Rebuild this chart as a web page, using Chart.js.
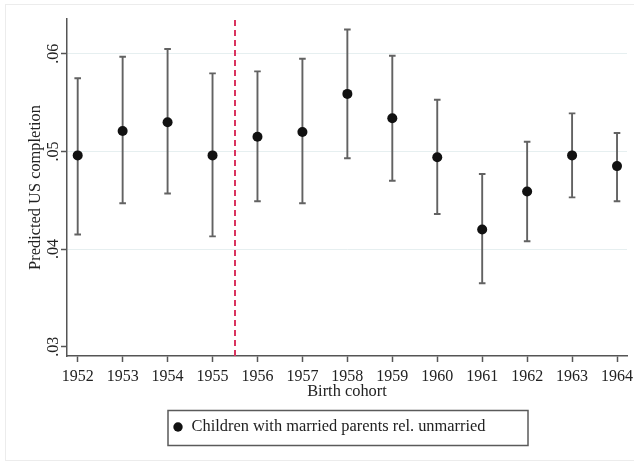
<!DOCTYPE html>
<html>
<head>
<meta charset="utf-8">
<script src="https://cdn.jsdelivr.net/npm/chart.js@4.4.1/dist/chart.umd.min.js"></script>
<style>
  html, body { margin: 0; padding: 0; background: #fff; }
  #wrap { position: relative; width: 634px; height: 464px; }
</style>
</head>
<body>
<div id="wrap"><canvas id="c" width="634" height="464"></canvas></div>
<script>
// ---- data ----
const years = [1952, 1953, 1954, 1955, 1956, 1957, 1958, 1959, 1960, 1961, 1962, 1963, 1964];
const estimate = [0.0496, 0.0521, 0.0530, 0.0496, 0.0515, 0.0520, 0.0559, 0.0534, 0.0494, 0.0420, 0.0459, 0.0496, 0.0485];
const upperCI = [0.0575, 0.0597, 0.0605, 0.0580, 0.0582, 0.0595, 0.0625, 0.0598, 0.0553, 0.0477, 0.0510, 0.0539, 0.0519];
const lowerCI = [0.0415, 0.0447, 0.0457, 0.0413, 0.0449, 0.0447, 0.0493, 0.0470, 0.0436, 0.0365, 0.0408, 0.0453, 0.0449];
const yTicks = [0.03, 0.04, 0.05, 0.06];
const yTickLabels = ['.03', '.04', '.05', '.06'];
const cutoffYear = 1955.5;
const seriesLabel = 'Children with married parents rel. unmarried';
const xTitle = 'Birth cohort';
const yTitle = 'Predicted US completion';

const FONT = '"Liberation Serif", "Times New Roman", serif';
const Y_MIN = 0.02905, Y_MAX = 0.06357;

const errorBars = {
  id: 'errorBars',
  beforeDatasetsDraw(chart) {
    const {ctx, scales: {x, y}} = chart;
    ctx.save();
    ctx.strokeStyle = '#626262';
    ctx.lineWidth = 1.9;
    years.forEach((yr, i) => {
      const px = x.getPixelForValue(yr);
      const top = y.getPixelForValue(upperCI[i]);
      const bot = y.getPixelForValue(lowerCI[i]);
      ctx.beginPath();
      ctx.moveTo(px, top); ctx.lineTo(px, bot);
      ctx.moveTo(px - 3.3, top); ctx.lineTo(px + 3.3, top);
      ctx.moveTo(px - 3.3, bot); ctx.lineTo(px + 3.3, bot);
      ctx.stroke();
    });
    ctx.restore();
  }
};

const frameAndLegend = {
  id: 'frameAndLegend',
  beforeDraw(chart) {
    const ctx = chart.ctx;
    ctx.save();
    ctx.fillStyle = '#fff';
    ctx.fillRect(0, 0, chart.width, chart.height);
    ctx.strokeStyle = '#ececec';
    ctx.lineWidth = 1;
    ctx.strokeRect(5.5, 4.5, 640, 456);
    ctx.restore();
  },
  afterDraw(chart) {
    const ctx = chart.ctx;
    ctx.save();
    ctx.strokeStyle = '#5a5a5a';
    ctx.lineWidth = 1.5;
    ctx.strokeRect(168, 410.5, 360, 35);
    ctx.fillStyle = '#111';
    ctx.beginPath();
    ctx.arc(178, 427, 4.7, 0, Math.PI * 2);
    ctx.fill();
    ctx.fillStyle = '#222';
    ctx.font = '16.4px ' + FONT;
    ctx.textBaseline = 'middle';
    ctx.textAlign = 'left';
    ctx.fillText(chart.data.datasets[0].label, 191.5, 427);
    ctx.restore();
  }
};

new Chart(document.getElementById('c'), {
  type: 'scatter',
  data: {
    datasets: [
      {
        label: seriesLabel,
        data: years.map((yr, i) => ({x: yr, y: estimate[i]})),
        pointRadius: 5,
        pointHoverRadius: 5,
        pointBackgroundColor: '#111',
        pointBorderColor: '#111',
        pointBorderWidth: 0,
        showLine: false,
        order: 1
      },
      {
        label: 'cutoff',
        type: 'line',
        data: [{x: cutoffYear, y: Y_MIN}, {x: cutoffYear, y: Y_MAX}],
        borderColor: '#d9345f',
        borderWidth: 2,
        borderDash: [6, 4],
        pointRadius: 0,
        fill: false,
        order: 2
      }
    ]
  },
  options: {
    responsive: false,
    animation: false,
    devicePixelRatio: 1,
    layout: { padding: { top: 19, right: 7, bottom: 62, left: 0 } },
    plugins: {
      legend: { display: false },
      tooltip: { enabled: false }
    },
    scales: {
      x: {
        type: 'linear',
        min: 1951.762,
        max: 1964.222,
        afterBuildTicks(scale) { scale.ticks = years.map(v => ({value: v})); },
        afterFit(scale) { scale.height = 46; scale.paddingLeft = 0; scale.paddingRight = 0; },
        border: { display: true, color: '#555', width: 1.5 },
        grid: { drawOnChartArea: false, drawTicks: true, tickLength: 6, tickColor: '#555', tickWidth: 1.5 },
        ticks: {
          color: '#222',
          font: { family: FONT, size: 16 },
          padding: 5,
          maxRotation: 0,
          minRotation: 0,
          autoSkip: false,
          callback: v => String(v)
        },
        title: {
          display: true,
          text: xTitle,
          color: '#222',
          font: { family: FONT, size: 16.4 },
          padding: { top: 0, bottom: 0 }
        }
      },
      y: {
        type: 'linear',
        min: Y_MIN,
        max: Y_MAX,
        afterBuildTicks(scale) { scale.ticks = yTicks.map(v => ({value: v})); },
        afterFit(scale) { scale.width = 67; scale.paddingTop = 0; scale.paddingBottom = 0; },
        border: { display: true, color: '#555', width: 1.5 },
        grid: {
          drawTicks: true,
          tickLength: 6,
          tickColor: '#555',
          tickWidth: 1.5,
          color: ctx => (ctx.tick && ctx.tick.value === 0.03) ? 'rgba(0,0,0,0)' : '#e6eff0',
          lineWidth: 1
        },
        ticks: {
          color: '#222',
          font: { family: FONT, size: 16 },
          minRotation: 90,
          maxRotation: 90,
          crossAlign: 'center',
          padding: -3,
          autoSkip: false,
          callback: (v) => {
            const i = yTicks.findIndex(t => Math.abs(t - v) < 1e-9);
            return i >= 0 ? yTickLabels[i] : '';
          }
        },
        title: {
          display: true,
          text: yTitle,
          color: '#222',
          font: { family: FONT, size: 16.4 },
          padding: { top: 26, bottom: 0 }
        }
      }
    }
  },
  plugins: [frameAndLegend, errorBars]
});
</script>
</body>
</html>
